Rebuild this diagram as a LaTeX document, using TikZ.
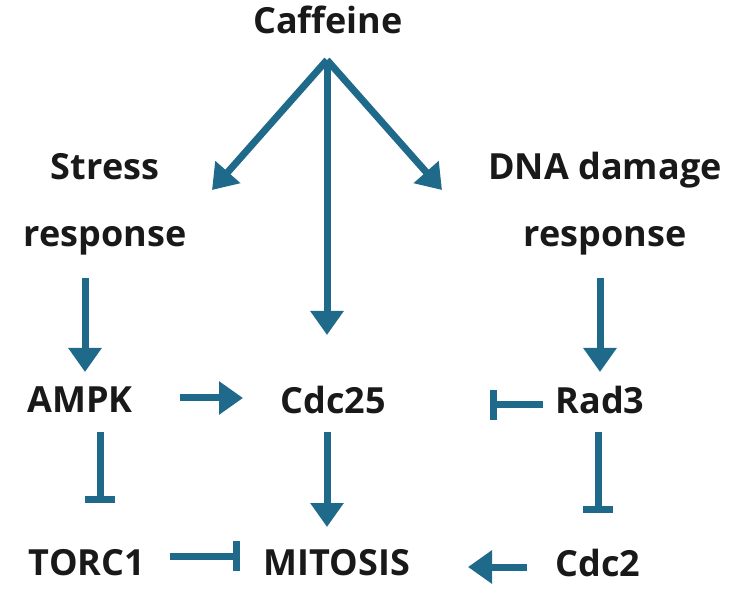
\documentclass[tikz,border=0pt]{standalone}
\usepackage{fontspec}
\setmainfont{Open Sans}
\usetikzlibrary{arrows.meta}
\definecolor{arr}{HTML}{1F6A8A}
\begin{document}
\begin{tikzpicture}[x=1pt,y=-1pt,
 lbl/.style={font=\fontsize{36}{67}\selectfont\bfseries, text=black!90, align=center},
 act/.style={draw=arr, line width=7pt, -{Triangle[length=24pt,width=32pt]}},
 inh/.style={draw=arr, line width=7pt, -{Bar[width=30pt]}}]
\useasboundingbox (0,0) rectangle (750,593);
\node[lbl] (caf) at (328,20) {Caffeine};
\node[lbl] (str) at (105,204) {Stress\\response};
\node[lbl] (dna) at (605,204) {DNA damage\\response};
\node[lbl] (ampk) at (80,400) {AMPK};
\node[lbl] (cdc25) at (333,400) {Cdc25};
\node[lbl] (rad3) at (600,400) {Rad3};
\node[lbl] (torc) at (87,563) {TORC1};
\node[lbl] (mit) at (337,563) {MITOSIS};
\node[lbl] (cdc2) at (598,563) {Cdc2};
\coordinate (top) at (327,60);
\draw[act] (top) -- (212,190);
\draw[act] (top) -- (327,335);
\draw[act] (top) -- (442,190);
\draw[act] (85,278) -- (85,372);
\draw[act] (600,278) -- (600,372);
\draw[act] (180,398) -- (243,398);
\draw[inh] (543,405) -- (490,405);
\draw[inh] (100,432) -- (100,503);
\draw[inh] (598,432) -- (598,513);
\draw[act] (327,432) -- (327,527);
\draw[inh] (170,556) -- (240,556);
\draw[act] (527,567) -- (468,567);
\end{tikzpicture}
\end{document}
